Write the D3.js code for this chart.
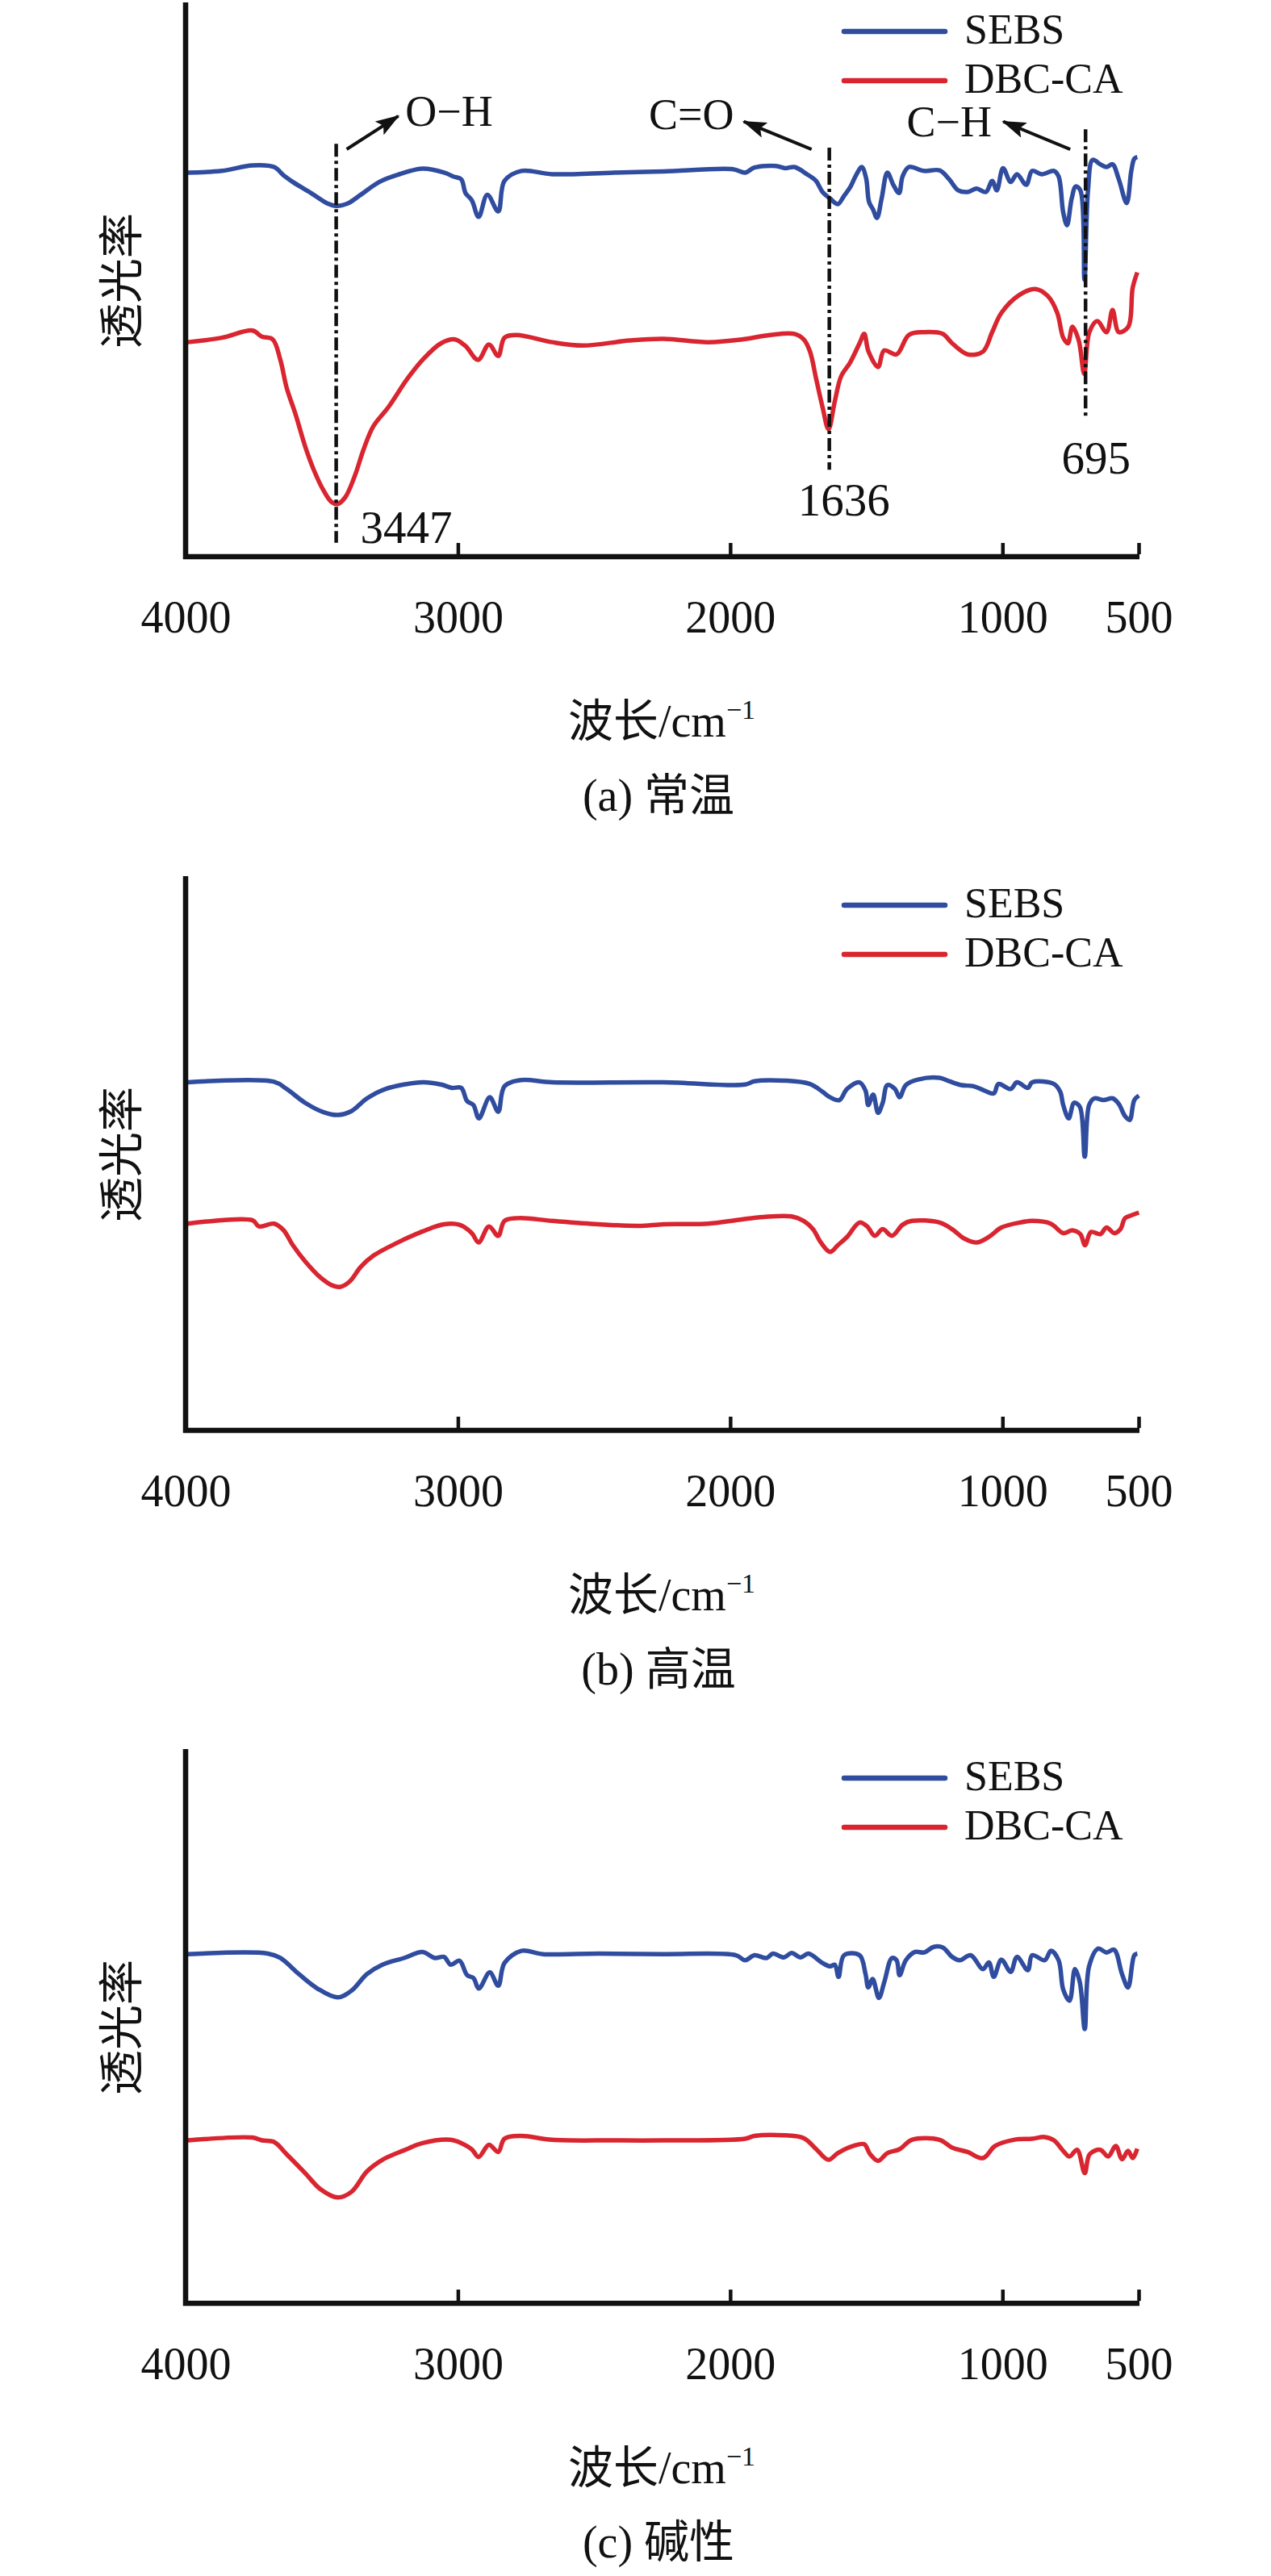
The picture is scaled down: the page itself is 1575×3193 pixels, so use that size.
<!DOCTYPE html>
<html>
<head>
<meta charset="utf-8">
<script src="https://cdn.jsdelivr.net/npm/d3@7"></script>
<style>
  html, body { margin: 0; padding: 0; background: #fff; }
  svg { display: block; }
  text { font-family: "Liberation Serif", "Times New Roman", "Noto Sans CJK SC", serif; fill: #111; }
  .cjk { font-family: "Liberation Serif", "Noto Sans CJK SC", serif; }
</style>
</head>
<body>
<div id="chart"></div>
<script>
// --- Données : [nombre d'onde (cm-1), transmittance relative] ---
const SEBS_A = [[3992,69.3],[3867,69.6],[3754,70.6],[3675,70.3],[3640,68.8],[3606,67.6],[3539,65.6],[3482,63.8],[3447,63.3],[3402,63.8],[3357,65.3],[3289,67.6],[3221,68.9],[3130,70.0],[3051,69.3],[3017,68.6],[2988,68.1],[2972,65.6],[2949,64.3],[2924,61.3],[2892,65.3],[2852,62.3],[2829,67.8],[2767,69.6],[2654,69.0],[2426,69.3],[2245,69.5],[1990,69.9],[1945,69.3],[1911,70.2],[1832,70.5],[1798,70.1],[1764,70.3],[1718,69.0],[1685,67.8],[1661,65.8],[1633,64.6],[1605,63.6],[1582,65.1],[1560,66.6],[1537,68.9],[1517,70.3],[1501,68.3],[1490,64.0],[1475,62.6],[1461,61.1],[1444,64.6],[1423,69.3],[1401,67.1],[1380,65.6],[1367,68.6],[1344,70.3],[1288,69.6],[1231,69.7],[1196,68.1],[1163,66.1],[1128,65.8],[1095,66.4],[1061,65.8],[1038,67.8],[1021,66.1],[998,70.1],[970,67.6],[947,69.0],[913,67.1],[891,69.6],[856,69.0],[811,69.6],[794,68.6],[777,62.1],[763,59.8],[746,64.6],[731,66.8],[714,66.1],[699,50.0],[686,66.1],[669,71.6],[641,70.8],[618,70.3],[596,70.8],[573,68.1],[544,63.8],[527,69.6],[516,71.8],[505,72.1]];
const DBC_A = [[3992,38.7],[3867,39.5],[3754,40.8],[3720,39.7],[3680,39.2],[3652,35.5],[3629,30.5],[3595,25.5],[3561,19.9],[3527,15.4],[3493,11.9],[3465,9.9],[3442,9.5],[3414,10.7],[3380,14.4],[3346,19.4],[3311,23.5],[3255,27.0],[3187,32.0],[3130,35.5],[3062,38.5],[3011,39.2],[2972,38.0],[2926,35.5],[2886,38.3],[2852,36.2],[2829,39.5],[2785,40.0],[2654,38.7],[2540,38.1],[2370,39.0],[2245,39.3],[2081,38.7],[1956,39.2],[1854,40.0],[1764,40.2],[1730,39.2],[1707,37.0],[1684,32.0],[1661,27.0],[1639,23.0],[1616,28.0],[1593,32.5],[1560,35.0],[1525,38.5],[1508,40.2],[1492,37.0],[1457,34.2],[1435,37.2],[1389,36.5],[1344,40.0],[1288,40.5],[1220,40.2],[1185,38.5],[1128,36.5],[1072,37.0],[1038,40.5],[1004,44.0],[936,47.3],[879,48.3],[833,47.0],[799,44.0],[777,39.5],[760,38.5],[743,41.5],[720,39.0],[700,33.0],[681,40.5],[652,42.5],[618,40.5],[596,44.5],[573,40.5],[538,41.5],[522,48.5],[505,51.3]];

const SEBS_B = [[3992,62.8],[3675,62.9],[3629,61.6],[3561,59.1],[3493,57.4],[3442,56.9],[3391,57.6],[3334,59.9],[3266,61.6],[3130,62.8],[3062,62.4],[3022,61.8],[2988,61.8],[2966,59.4],[2943,58.7],[2923,56.3],[2883,60.1],[2852,57.5],[2829,62.1],[2767,63.2],[2654,62.8],[2245,62.8],[1945,62.4],[1911,63.0],[1798,63.1],[1707,62.5],[1661,61.1],[1633,60.1],[1599,59.6],[1571,61.6],[1525,62.8],[1503,61.3],[1493,58.7],[1475,60.6],[1457,57.3],[1440,59.1],[1423,62.3],[1395,61.6],[1378,60.1],[1355,62.3],[1310,63.3],[1231,63.6],[1196,63.0],[1152,62.3],[1107,62.1],[1066,61.3],[1032,60.8],[1015,62.5],[970,61.6],[947,62.8],[907,61.8],[891,62.8],[811,62.5],[788,61.1],[777,58.7],[757,56.3],[737,59.1],[716,58.4],[698,49.4],[682,58.7],[663,59.9],[629,59.6],[595,59.9],[573,58.9],[550,56.7],[533,56.0],[516,59.6],[499,60.4]];
const DBC_B = [[3992,37.3],[3754,37.9],[3731,36.8],[3675,37.3],[3640,36.1],[3606,33.4],[3561,30.5],[3505,27.6],[3459,26.1],[3431,25.9],[3397,26.9],[3357,29.5],[3311,31.5],[3221,33.9],[3130,35.9],[3051,37.2],[2994,37.1],[2949,35.6],[2924,33.9],[2886,36.8],[2852,35.1],[2829,37.8],[2778,38.3],[2654,37.8],[2484,37.2],[2336,36.9],[2245,37.2],[2081,37.3],[1968,38.0],[1877,38.5],[1775,38.6],[1730,37.8],[1696,36.3],[1667,33.9],[1633,32.2],[1605,33.4],[1571,34.9],[1525,37.5],[1497,36.8],[1469,35.1],[1440,36.3],[1406,35.1],[1367,37.1],[1333,37.8],[1231,37.5],[1185,36.3],[1140,34.6],[1095,33.9],[1050,34.9],[1004,36.6],[936,37.5],[891,37.8],[823,37.3],[777,35.6],[743,36.1],[714,35.4],[697,33.4],[675,35.8],[641,35.4],[618,36.6],[590,35.6],[567,36.3],[550,38.3],[527,38.8],[499,39.3]];

const SEBS_C = [[3992,63.0],[3698,63.1],[3652,62.3],[3584,59.4],[3516,56.8],[3442,55.2],[3391,56.4],[3334,59.4],[3277,61.1],[3198,62.3],[3130,63.4],[3085,62.3],[3051,62.5],[3026,61.1],[2994,61.8],[2966,59.2],[2943,58.7],[2923,56.8],[2883,59.7],[2852,57.3],[2829,61.4],[2767,63.6],[2688,63.0],[2484,63.1],[2245,63.0],[1979,62.8],[1945,61.9],[1911,62.8],[1866,62.3],[1843,63.1],[1803,62.4],[1775,63.2],[1741,62.4],[1713,63.1],[1661,61.4],[1633,60.8],[1616,61.1],[1602,58.9],[1582,62.8],[1525,62.8],[1503,59.4],[1493,57.0],[1477,58.5],[1454,55.1],[1434,58.0],[1406,62.3],[1389,61.9],[1378,59.2],[1355,61.9],[1321,63.4],[1288,63.3],[1253,64.3],[1219,64.2],[1185,62.5],[1157,61.9],[1117,62.8],[1072,60.3],[1050,61.5],[1032,58.9],[1004,62.0],[970,59.8],[947,62.5],[907,60.1],[891,62.8],[845,61.9],[822,63.6],[794,61.9],[777,56.6],[754,54.6],[734,60.3],[716,57.9],[698,49.5],[682,60.8],[649,64.0],[618,63.3],[590,63.8],[561,59.4],[539,57.0],[516,62.8],[505,63.1]];
const DBC_C = [[3992,29.4],[3754,29.9],[3720,29.4],[3675,29.1],[3629,26.9],[3561,23.5],[3505,20.6],[3442,19.1],[3391,20.1],[3334,23.8],[3277,25.9],[3198,27.6],[3130,28.9],[3028,29.5],[2983,28.8],[2949,27.8],[2924,26.4],[2886,28.6],[2852,27.3],[2829,29.7],[2767,30.2],[2654,29.5],[2427,29.4],[2245,29.4],[1945,29.7],[1911,30.2],[1798,30.3],[1730,29.8],[1684,27.8],[1639,25.9],[1605,27.1],[1548,28.4],[1508,28.7],[1486,26.9],[1457,25.7],[1423,27.1],[1378,27.8],[1333,29.5],[1231,29.5],[1185,28.1],[1128,27.3],[1072,26.2],[1027,28.4],[959,29.5],[891,29.7],[845,30.0],[811,29.4],[777,27.5],[754,26.5],[726,27.7],[698,23.5],[680,26.9],[641,27.7],[612,26.5],[584,28.4],[561,26.0],[539,27.5],[522,26.2],[505,27.9]];

const X_TICKS = [4000, 3000, 2000, 1000, 500];
const SERIES_NAMES = ['SEBS', 'DBC-CA'];
const CAPTIONS = ['(a) 常温', '(b) 高温', '(c) 碱性'];
// bandes annotées sur le panneau (a) : position, groupe fonctionnel, étiquette du pic
const BAND_WN = [3447, 1636, 695];
const BAND_GROUPS = ['O−H', 'C=O', 'C−H'];
const BAND_PEAKS = ['3447', '1636', '695'];

// --- Mise en page ---
const W = 1575, H = 3193;
const PANEL_TOP = [0, 1083, 2165];
const M = { left: 230, right: 1411, top: 3, bottom: 690 };
const COLORS = ['#2f4c9f', '#d92530'];

const svg = d3.select('#chart').append('svg')
  .attr('width', W).attr('height', H)
  .attr('viewBox', `0 0 ${W} ${H}`);
svg.append('rect').attr('width', W).attr('height', H).attr('fill', '#fff');

svg.append('defs').append('marker')
  .attr('id', 'arrow')
  .attr('markerUnits', 'userSpaceOnUse')
  .attr('viewBox', '0 0 30 20')
  .attr('refX', 28).attr('refY', 10)
  .attr('markerWidth', 30).attr('markerHeight', 20)
  .attr('orient', 'auto')
  .append('path').attr('d', 'M0,0 L30,10 L0,20 L6,10 Z').attr('fill', '#111');

const x = d3.scaleLinear().domain([4000, 500]).range([M.left, M.right]);
const y = d3.scaleLinear().domain([0, 100]).range([M.bottom, M.top]);

const line = d3.line()
  .x(d => x(d[0]))
  .y(d => y(d[1]))
  .curve(d3.curveCatmullRom.alpha(0.5));

const panels = [
  { series: [SEBS_A, DBC_A], annotate: true },
  { series: [SEBS_B, DBC_B], annotate: false },
  { series: [SEBS_C, DBC_C], annotate: false },
];

panels.forEach((p, i) => {
  const g = svg.append('g').attr('transform', `translate(0,${PANEL_TOP[i]})`);

  // courbes
  p.series.forEach((s, k) => {
    g.append('path')
      .datum(s)
      .attr('d', line)
      .attr('fill', 'none')
      .attr('stroke', COLORS[k])
      .attr('stroke-width', 5.5)
      .attr('stroke-linejoin', 'round');
  });

  // axe des x (graduations vers l'intérieur)
  const xAxis = d3.axisBottom(x)
    .tickValues(X_TICKS)
    .tickFormat(d3.format('d'))
    .tickSizeInner(-14)
    .tickSizeOuter(0)
    .tickPadding(54);
  const ax = g.append('g').attr('transform', `translate(0,${M.bottom})`).call(xAxis);
  ax.select('.domain').attr('stroke', '#111').attr('stroke-width', 6.5)
    .attr('d', `M${M.left - 3},0H${M.right + 1}`);
  ax.selectAll('.tick line').attr('stroke', '#111').attr('stroke-width', 4.5)
    .attr('transform', 'translate(0,-3)');
  ax.selectAll('.tick text').attr('font-size', 56).attr('fill', '#111')
    .style('font-family', '"Liberation Serif", serif');

  // axe des y (simple trait, sans graduation)
  const yAxis = d3.axisLeft(y).tickValues([]).tickSizeOuter(0);
  const ay = g.append('g').attr('transform', `translate(${M.left},0)`).call(yAxis);
  ay.select('.domain').attr('stroke', '#111').attr('stroke-width', 6.5)
    .attr('d', `M0,${M.top}V${M.bottom + 3}`);

  // titre de l'axe y
  g.append('text')
    .attr('class', 'cjk')
    .attr('transform', `translate(151,348) rotate(-90)`)
    .attr('text-anchor', 'middle')
    .attr('dominant-baseline', 'central')
    .attr('font-size', 56)
    .text('透光率');

  // titre de l'axe x
  const xt = g.append('text')
    .attr('class', 'cjk')
    .attr('x', 820).attr('y', 913)
    .attr('text-anchor', 'middle')
    .attr('font-size', 56)
    .text('波长/cm');
  xt.append('tspan').attr('dy', -22).attr('font-size', 34).text('−1');

  // légende du panneau
  g.append('text')
    .attr('class', 'cjk')
    .attr('x', 816).attr('y', 1005)
    .attr('text-anchor', 'middle')
    .attr('font-size', 56)
    .text(CAPTIONS[i]);

  // légende des séries
  const leg = g.append('g');
  SERIES_NAMES.forEach((name, k) => {
    const ly = 39 + k * 61;
    leg.append('line')
      .attr('x1', 1046).attr('x2', 1171).attr('y1', ly).attr('y2', ly)
      .attr('stroke', COLORS[k]).attr('stroke-width', 6.5).attr('stroke-linecap', 'round');
    leg.append('text')
      .attr('x', 1195).attr('y', ly + 15)
      .attr('font-size', 52)
      .text(name);
  });

  if (p.annotate) drawBands(g);
});

function drawBands(g) {
  // étendue des traits mixtes (en unités de transmittance)
  const lineTop = [74.5, 73.8, 77.1];
  const lineBottom = [2.5, 15.7, 25.2];
  // position des étiquettes de pic
  const peakDx = [30, 18, 13];
  const peakT = [2.5, 7.4, 15.0];
  const peakAnchor = ['start', 'middle', 'middle'];
  // groupes + flèches
  const groupDx = [140, -171, -169];
  const groupT = [77.7, 77.1, 75.8];
  const arrowTail = [[13, 73.5], [-22, 73.5], [-19, 73.5]];
  const arrowHead = [[77, 79.5], [-106, 78.5], [-102, 78.5]];

  BAND_WN.forEach((wn, j) => {
    const bx = x(wn);
    g.append('line')
      .attr('x1', bx).attr('x2', bx)
      .attr('y1', y(lineTop[j])).attr('y2', y(lineBottom[j]))
      .attr('stroke', '#111').attr('stroke-width', 4.5)
      .attr('stroke-dasharray', '16,5,4,5');

    g.append('text')
      .attr('x', bx + peakDx[j]).attr('y', y(peakT[j]))
      .attr('text-anchor', peakAnchor[j])
      .attr('font-size', 57)
      .text(BAND_PEAKS[j]);

    g.append('text')
      .attr('x', bx + groupDx[j]).attr('y', y(groupT[j]))
      .attr('text-anchor', 'middle')
      .attr('font-size', 54)
      .text(BAND_GROUPS[j]);

    g.append('line')
      .attr('x1', bx + arrowTail[j][0]).attr('y1', y(arrowTail[j][1]))
      .attr('x2', bx + arrowHead[j][0]).attr('y2', y(arrowHead[j][1]))
      .attr('stroke', '#111').attr('stroke-width', 4)
      .attr('marker-end', 'url(#arrow)');
  });
}
</script>
</body>
</html>
